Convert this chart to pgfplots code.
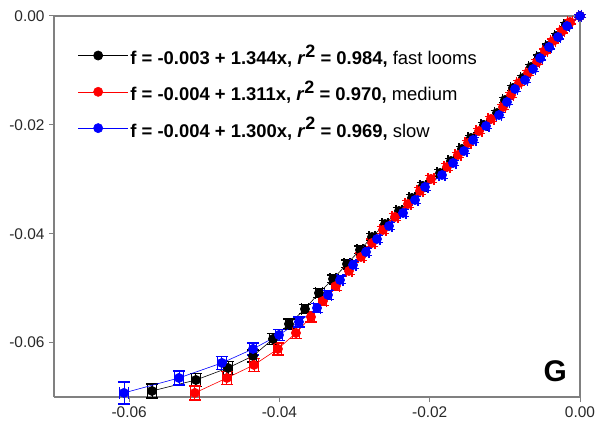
\documentclass[border=0pt]{standalone}
\usepackage{pgfplots}
\pgfplotsset{compat=1.18}
\usepackage{pgfplotstable}
\usepackage{fontspec}
\setmainfont{Liberation Sans}
\usetikzlibrary{calc}

\pgfplotstableread{
x y ex ey
0 0 0.0002 0.0003
-0.00186 -0.00165 0.0003 0.0004
-0.00306 -0.00367 0.0003 0.0004
-0.00426 -0.00551 0.0003 0.0004
-0.00546 -0.00753 0.0003 0.0004
-0.00652 -0.00937 0.0003 0.0005
-0.00759 -0.01139 0.0003 0.0005
-0.00892 -0.01323 0.0003 0.0005
-0.00998 -0.01543 0.0003 0.0005
-0.01105 -0.01782 0.0003 0.0005
-0.01278 -0.02002 0.0004 0.0005
-0.01451 -0.02241 0.0004 0.0005
-0.01571 -0.02443 0.0004 0.0005
-0.01717 -0.02664 0.0004 0.0005
-0.01863 -0.02884 0.0004 0.0006
-0.02090 -0.03123 0.0004 0.0006
-0.02236 -0.03343 0.0004 0.0006
-0.02409 -0.03582 0.0004 0.0006
-0.02595 -0.03821 0.0004 0.0006
-0.02768 -0.04060 0.0004 0.0006
-0.02928 -0.04298 0.0004 0.0007
-0.03101 -0.04556 0.0004 0.0007
-0.03287 -0.04831 0.0004 0.0007
-0.03474 -0.05089 0.0005 0.0008
-0.03660 -0.05383 0.0005 0.0008
-0.03873 -0.05658 0.0005 0.0009
-0.04086 -0.05934 0.0005 0.0010
-0.04352 -0.06246 0.0005 0.0011
-0.04685 -0.06466 0.0006 0.0012
-0.05111 -0.06687 0.0006 0.0012
-0.05696 -0.06889 0.0006 0.0013
}\fast

\pgfplotstableread{
x y ex ey
0 0 0.0002 0.0003
-0.00133 -0.00110 0.0003 0.0004
-0.00240 -0.00276 0.0003 0.0004
-0.00359 -0.00459 0.0003 0.0004
-0.00466 -0.00643 0.0003 0.0004
-0.00572 -0.00845 0.0003 0.0005
-0.00692 -0.01047 0.0003 0.0005
-0.00812 -0.01231 0.0003 0.0005
-0.00918 -0.01451 0.0003 0.0005
-0.01025 -0.01672 0.0003 0.0005
-0.01185 -0.01892 0.0004 0.0005
-0.01344 -0.02113 0.0004 0.0005
-0.01491 -0.02333 0.0004 0.0005
-0.01624 -0.02553 0.0004 0.0005
-0.01770 -0.02774 0.0004 0.0006
-0.01983 -0.02994 0.0004 0.0006
-0.02130 -0.03215 0.0004 0.0006
-0.02289 -0.03454 0.0004 0.0006
-0.02462 -0.03692 0.0004 0.0006
-0.02622 -0.03931 0.0004 0.0006
-0.02768 -0.04170 0.0004 0.0007
-0.02915 -0.04427 0.0004 0.0007
-0.03075 -0.04684 0.0004 0.0007
-0.03248 -0.04960 0.0005 0.0008
-0.03421 -0.05236 0.0005 0.0008
-0.03580 -0.05529 0.0005 0.0009
-0.03780 -0.05823 0.0005 0.0010
-0.04020 -0.06117 0.0005 0.0011
-0.04339 -0.06411 0.0006 0.0012
-0.04699 -0.06650 0.0006 0.0012
-0.05125 -0.06925 0.0006 0.0013
}\medium

\pgfplotstableread{
x y ex ey
0 0 0.0002 0.0003
-0.00173 -0.00184 0.0003 0.0004
-0.00293 -0.00386 0.0003 0.0004
-0.00413 -0.00569 0.0003 0.0004
-0.00532 -0.00772 0.0003 0.0004
-0.00626 -0.00974 0.0003 0.0005
-0.00732 -0.01176 0.0003 0.0005
-0.00865 -0.01341 0.0003 0.0005
-0.00972 -0.01580 0.0003 0.0005
-0.01078 -0.01819 0.0003 0.0005
-0.01251 -0.02021 0.0004 0.0005
-0.01424 -0.02278 0.0004 0.0005
-0.01544 -0.02480 0.0004 0.0005
-0.01690 -0.02700 0.0004 0.0005
-0.01837 -0.02921 0.0004 0.0006
-0.02063 -0.03141 0.0004 0.0006
-0.02196 -0.03380 0.0004 0.0006
-0.02356 -0.03619 0.0004 0.0006
-0.02542 -0.03858 0.0004 0.0006
-0.02702 -0.04097 0.0004 0.0006
-0.02848 -0.04335 0.0004 0.0007
-0.03021 -0.04574 0.0004 0.0007
-0.03194 -0.04850 0.0004 0.0007
-0.03354 -0.05125 0.0005 0.0008
-0.03500 -0.05364 0.0005 0.0008
-0.03740 -0.05621 0.0005 0.0009
-0.04006 -0.05860 0.0005 0.0010
-0.04352 -0.06117 0.0005 0.0011
-0.04765 -0.06374 0.0006 0.0012
-0.05337 -0.06650 0.0006 0.0013
-0.06069 -0.06925 0.0006 0.0020
}\slow

\definecolor{axgray}{RGB}{128,128,128}
\definecolor{txtgray}{RGB}{40,40,40}
\definecolor{pred}{RGB}{255,0,0}
\definecolor{pblue}{RGB}{0,0,255}

\newcommand{\rsq}{\textit{r}\raisebox{0.75ex}{\fontsize{18}{18}\selectfont 2}}

\begin{document}
\begin{tikzpicture}
\begin{axis}[
  scale only axis,
  width=526bp, height=381bp,
  xmin=-0.07, xmax=0, ymin=-0.07, ymax=0,
  xtick={-0.06,-0.04,-0.02,0},
  ytick={-0.06,-0.04,-0.02,0},
  axis x line*=bottom, axis y line*=left,
  axis line style={axgray, line width=1.1pt},
  tick style={axgray, line width=1pt},
  major tick length=5bp,
  tick align=outside,
  every tick label/.append style={font=\fontsize{15.5}{17}\selectfont, text=txtgray},
  xticklabel style={yshift=-1bp},
  yticklabel style={xshift=-1bp},
  /pgf/number format/.cd, fixed, fixed zerofill, precision=2, assume math mode=true,
  /pgfplots/.cd,
  scaled ticks=false,
  clip=false,
  legend style={draw=none, fill=none, at={(rel axis cs:0.045,0.93)}, anchor=north west,
    font=\fontsize{18.5}{21}\selectfont, row sep=11bp, inner sep=0pt},
  legend cell align=left,
  legend image code/.code={
    \path (0bp,0bp) -- (50bp,0bp);
    \draw[#1, mark=none, line width=0.6pt] (0bp,0bp) -- (40bp,0bp);
    \draw[#1, only marks] plot coordinates {(20bp,0bp)};
  },
  error bars/error bar style={line width=0.9pt},
  error bars/error mark options={rotate=90, mark size=6bp, line width=1.4pt},
]
\draw[axgray, line width=1.1pt] (rel axis cs:0,1) -- (rel axis cs:1,1) -- (rel axis cs:1,0);

\addplot[black, line width=0.6pt, mark=*, mark size=4.6bp,
  mark options={fill=black},
  error bars/.cd, y dir=both, y explicit, x dir=both, x explicit]
  table[x=x, y=y, x error=ex, y error=ey] {\fast};
\addlegendentry{\textbf{f = -0.003 + 1.344x, \rsq{} = 0.984,} fast looms}

\addplot[pred, line width=0.6pt, mark=*, mark size=4.6bp,
  mark options={fill=pred},
  error bars/.cd, y dir=both, y explicit, x dir=both, x explicit]
  table[x=x, y=y, x error=ex, y error=ey] {\medium};
\addlegendentry{\textbf{f = -0.004 + 1.311x, \rsq{} = 0.970,} medium}

\addplot[pblue, line width=0.6pt, mark=*, mark size=4.6bp,
  mark options={fill=pblue},
  error bars/.cd, y dir=both, y explicit, x dir=both, x explicit]
  table[x=x, y=y, x error=ex, y error=ey] {\slow};
\addlegendentry{\textbf{f = -0.004 + 1.300x, \rsq{} = 0.969,} slow}

\node[font=\fontsize{30}{30}\selectfont\bfseries] at (axis cs:-0.0033,-0.0652) {G};
\end{axis}
\pgfresetboundingbox
\path[use as bounding box] ($(current axis.south west)+(-54bp,-29bp)$) rectangle ($(current axis.north east)+(23bp,16bp)$);
\end{tikzpicture}
\end{document}
